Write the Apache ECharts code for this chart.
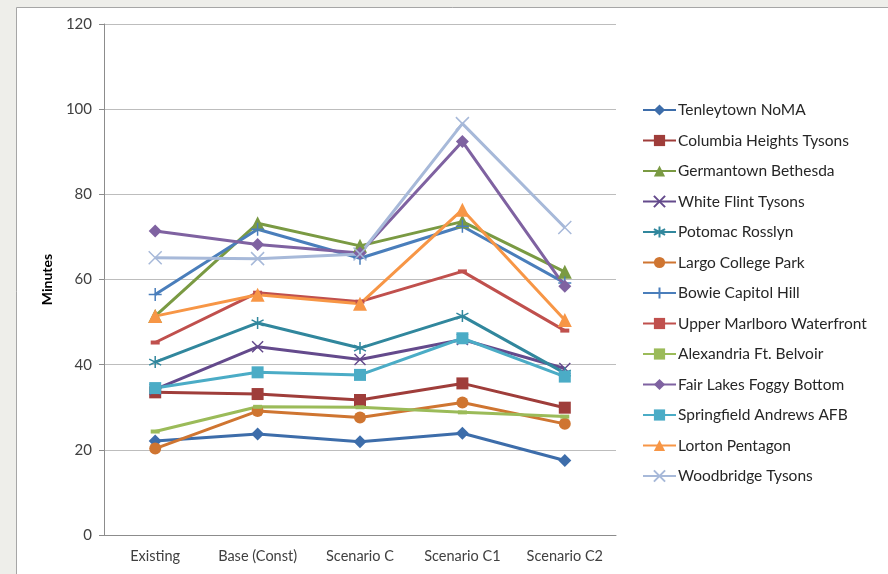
<!DOCTYPE html>
<html>
<head>
<meta charset="utf-8">
<script src="https://cdn.jsdelivr.net/npm/echarts@6/dist/echarts.min.js"></script>
<style>
    html, body { margin: 0; padding: 0; background: #eeeeea; }
    #chart { width: 888px; height: 574px; }
</style>
</head>
<body>
<div id="chart"></div>
<script>
    // categories and values
    var scenarios = ['Existing', 'Base (Const)', 'Scenario C', 'Scenario C1', 'Scenario C2'];
    var yTicks = [0, 20, 40, 60, 80, 100, 120];

    var tenleytownNoma = [22.1, 23.7, 21.9, 23.9, 17.5];
    var columbiaHeightsTysons = [33.5, 33.1, 31.7, 35.6, 29.9];
    var germantownBethesda = [51.4, 73.2, 67.9, 73.6, 61.8];
    var whiteFlintTysons = [34.2, 44.2, 41.2, 45.9, 39.1];
    var potomacRosslyn = [40.6, 49.8, 43.9, 51.4, 38.0];
    var largoCollegePark = [20.3, 29.1, 27.6, 31.1, 26.1];
    var bowieCapitolHill = [56.5, 71.8, 65.0, 72.5, 59.2];
    var upperMarlboroWaterfront = [45.2, 56.9, 54.8, 61.9, 48.0];
    var alexandriaFtBelvoir = [24.3, 30.1, 30.0, 28.8, 27.8];
    var fairLakesFoggyBottom = [71.4, 68.2, 66.2, 92.4, 58.4];
    var springfieldAndrewsAfb = [34.5, 38.2, 37.6, 46.2, 37.2];
    var lortonPentagon = [51.4, 56.4, 54.3, 76.4, 50.5];
    var woodbridgeTysons = [65.1, 64.9, 66.0, 96.6, 72.2];

    var seriesNames = ['Tenleytown NoMA', 'Columbia Heights Tysons', 'Germantown Bethesda', 'White Flint Tysons',
        'Potomac Rosslyn', 'Largo College Park', 'Bowie Capitol Hill', 'Upper Marlboro Waterfront',
        'Alexandria Ft. Belvoir', 'Fair Lakes Foggy Bottom', 'Springfield Andrews AFB', 'Lorton Pentagon',
        'Woodbridge Tysons'];
    var seriesValues = [tenleytownNoma, columbiaHeightsTysons, germantownBethesda, whiteFlintTysons,
        potomacRosslyn, largoCollegePark, bowieCapitolHill, upperMarlboroWaterfront,
        alexandriaFtBelvoir, fairLakesFoggyBottom, springfieldAndrewsAfb, lortonPentagon,
        woodbridgeTysons];

    var colors = ['#3d6daa', '#9f3d3a', '#7a9a43', '#644a8c', '#31879d', '#cf7531', '#4a7ebb',
        '#c0504d', '#9bbb59', '#7f62a1', '#4bacc6', '#f79646', '#a7b9d9'];

    // excel style markers
    var CROSS = 'path://M0,0L10,10M10,0L0,10';
    var STAR = 'path://M5,0L5,10M0,2.5L10,7.5M10,2.5L0,7.5';
    var PLUS = 'path://M5,0L5,10M0,5L10,5';
    var markers = [
        { symbol: 'diamond', size: 13, stroke: false },
        { symbol: 'rect', size: 12, stroke: false },
        { symbol: 'triangle', size: 14, stroke: false },
        { symbol: CROSS, size: 11, stroke: true },
        { symbol: STAR, size: 12, stroke: true },
        { symbol: 'circle', size: 12, stroke: false },
        { symbol: PLUS, size: 13, stroke: true },
        { symbol: 'rect', size: [9, 4], stroke: false },
        { symbol: 'rect', size: [9, 4], stroke: false },
        { symbol: 'diamond', size: 13, stroke: false },
        { symbol: 'rect', size: 12, stroke: false },
        { symbol: 'triangle', size: 14, stroke: false },
        { symbol: CROSS, size: 13, stroke: true }
    ];

    var series = seriesNames.map(function(name, i) {
        var m = markers[i];
        return {
            name: name,
            type: 'line',
            data: seriesValues[i],
            symbol: m.symbol,
            symbolSize: m.size,
            showAllSymbol: true,
            animation: false,
            lineStyle: { color: colors[i], width: 3 },
            itemStyle: {
                color: colors[i],
                borderColor: colors[i],
                borderWidth: m.stroke ? 1.5 : 0
            }
        };
    });

    var chart = echarts.init(document.getElementById('chart'));
    chart.setOption({
        backgroundColor: '#eeeeea',
        color: colors,
        textStyle: { fontFamily: 'Lato, "Open Sans", sans-serif' },
        graphic: [{
            type: 'rect',
            z: -10,
            shape: { x: 16.5, y: 7.5, width: 880, height: 580 },
            style: { fill: '#ffffff', stroke: '#a6a6a6', lineWidth: 1 }
        }],
        grid: {
            left: 104,
            top: 24,
            width: 512,
            height: 511
        },
        legend: {
            orient: 'vertical',
            left: 642,
            top: 102,
            padding: 0,
            itemWidth: 33,
            itemHeight: 14,
            itemGap: 14.5,
            textStyle: { fontSize: 15.5, color: '#262626', padding: [0, 0, 0, -3] },
            data: seriesNames
        },
        xAxis: {
            type: 'category',
            data: scenarios,
            axisLine: { lineStyle: { color: '#8c8c8c' } },
            axisTick: { length: 5, lineStyle: { color: '#8c8c8c' } },
            axisLabel: { fontSize: 14.5, color: '#404040', margin: 14, interval: 0 }
        },
        yAxis: {
            type: 'value',
            min: 0,
            max: 120,
            interval: 20,
            name: 'Minutes',
            nameLocation: 'middle',
            nameGap: 50,
            nameTextStyle: { fontSize: 14, fontWeight: 'bold', color: '#000000' },
            axisLine: { show: true, lineStyle: { color: '#8c8c8c' } },
            axisTick: { show: true, length: 5, lineStyle: { color: '#8c8c8c' } },
            axisLabel: {
                fontSize: 15,
                color: '#404040',
                margin: 12,
                formatter: function(v) {
                    return yTicks.indexOf(v) >= 0 ? String(v) : '';
                }
            },
            splitLine: { lineStyle: { color: '#bdbdbd', width: 1 } }
        },
        series: series
    });
</script>
</body>
</html>
